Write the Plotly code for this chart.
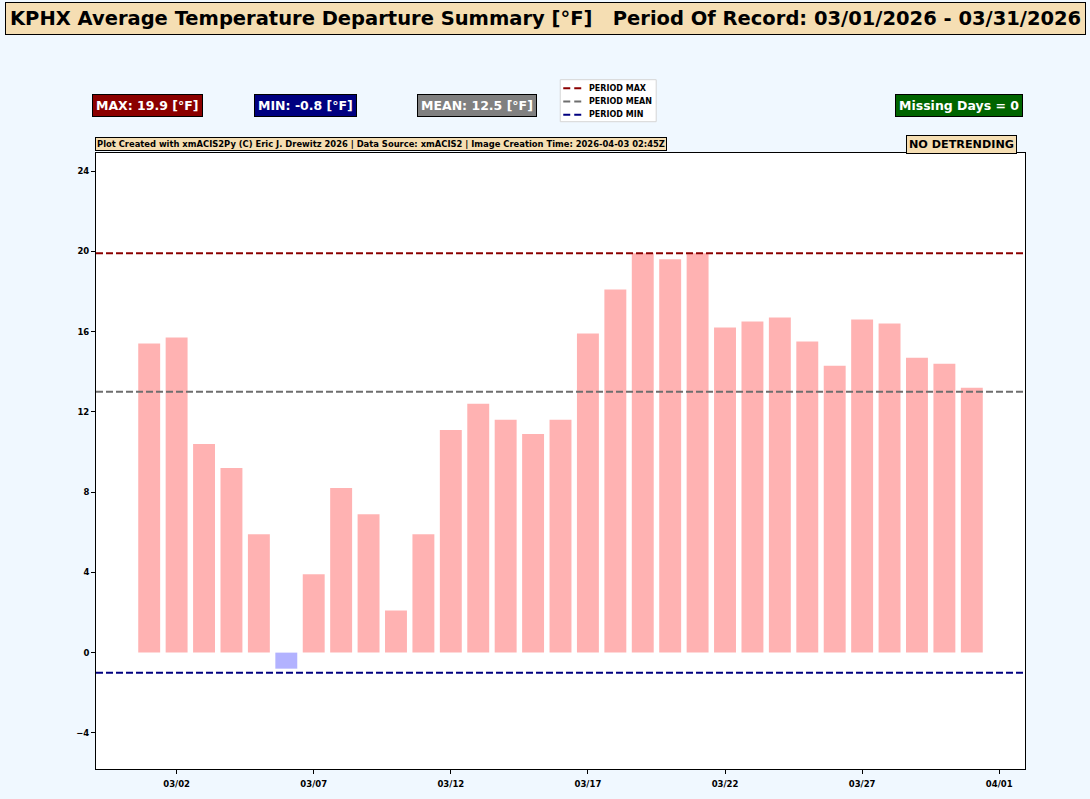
import plotly.graph_objects as go
import pandas as pd

# ---- data ----
dates = pd.date_range("2026-03-01", "2026-03-31", freq="D")
departures = [15.4, 15.7, 10.4, 9.2, 5.9, -0.8, 3.9, 8.2, 6.9, 2.1,
              5.9, 11.1, 12.4, 11.6, 10.9, 11.6, 15.9, 18.1, 19.9, 19.6,
              19.9, 16.2, 16.5, 16.7, 15.5, 14.3, 16.6, 16.4, 14.7, 14.4, 13.2]
period_max_line = 19.9
period_mean_line = 13.0
period_min_line = -1.0
line_names = ["PERIOD MAX", "PERIOD MEAN", "PERIOD MIN"]
line_colors = ["#8B0000", "#6E6E6E", "#000080"]
max_label = "MAX: 19.9 [°F]"
min_label = "MIN: -0.8 [°F]"
mean_label = "MEAN: 12.5 [°F]"
missing_label = "Missing Days = 0"
title_text = "KPHX Average Temperature Departure Summary [°F]   Period Of Record: 03/01/2026 - 03/31/2026"
credit_text = ("Plot Created with xmACIS2Py (C) Eric J. Drewitz 2026 | Data Source: xmACIS2 | "
               "Image Creation Time: 2026-04-03 02:45Z")
detrend_text = "NO DETRENDING"

FONT = "DejaVu Sans"
DAY_MS = 86400000

bar_colors = ["rgba(255,0,0,0.3)" if v >= 0 else "rgba(0,0,255,0.3)" for v in departures]

fig = go.Figure()
fig.add_trace(go.Bar(x=dates, y=departures, width=0.8 * DAY_MS,
                     marker=dict(color=bar_colors, line=dict(width=0)),
                     showlegend=False))

# pixel geometry helpers
L, R, T, B = 95.5, 1025, 153.3, 769.3
W, H = R - L, B - T
def px(x): return (x - L) / W
def py(y): return (B - y) / H

DASH = "7px,3px"
line_values = [period_max_line, period_mean_line, period_min_line]
for val, col, name in zip(line_values, line_colors, line_names):
    fig.add_shape(type="line", xref="paper", x0=0, x1=1, yref="y", y0=val, y1=val,
                  line=dict(color=col, width=2, dash=DASH), layer="above", name=name)

# legend (drawn manually to match compact layout)
fig.add_shape(type="rect", xref="paper", yref="paper",
              x0=px(560), x1=px(656), y0=py(122), y1=py(80),
              line=dict(color="#D6D6D6", width=1), fillcolor="white")
ann = []
for i, (col, name) in enumerate(zip(line_colors, line_names)):
    ly = 88.5 + i * 13.3
    fig.add_shape(type="line", xref="paper", yref="paper",
                  x0=px(563), x1=px(581), y0=py(ly), y1=py(ly),
                  line=dict(color=col, width=2, dash="7px,4px"))
    ann.append(dict(text=f"<b>{name}</b>", x=px(587), y=py(ly), xref="paper", yref="paper",
                    showarrow=False, xanchor="left", yanchor="middle",
                    font=dict(family=FONT, size=8, color="black")))

pad = pd.Timedelta(days=1.94)
x_range = [dates[0] - pad, dates[-1] + pad]
y_range = [min(departures) - 5, max(departures) + 5]

def box(text, cx, cy, size, bg, fc="white", pad=3, border="black"):
    ann.append(dict(text=f"<b>{text}</b>", x=px(cx), y=py(cy), xref="paper", yref="paper",
                    showarrow=False, xanchor="center", yanchor="middle",
                    font=dict(family=FONT, size=size, color=fc),
                    bgcolor=bg, bordercolor=border, borderwidth=1, borderpad=pad))

box(title_text, 545, 18.5, 19.5, "#F5DEB3", fc="black", pad=4)
box(max_label, 147, 106, 12.5, "#8B0000")
box(min_label, 305, 106, 12.5, "#000080")
box(mean_label, 477, 106, 12.5, "#808080")
box(missing_label, 959, 106, 12.5, "#006400")
box(credit_text, 381, 144.5, 8.4, "#F5DEB3", fc="black", pad=1)
box(detrend_text, 961, 144.5, 11.2, "#F5DEB3", fc="black", pad=2)

fig.update_layout(
    width=1090, height=799,
    paper_bgcolor="#F0F8FF", plot_bgcolor="white",
    margin=dict(l=L, r=1090 - R, t=T, b=799 - B, pad=0, autoexpand=False),
    font=dict(family=FONT, color="black"),
    annotations=ann,
    showlegend=False,
    xaxis=dict(type="date", range=x_range, tick0="2026-03-02", dtick=5 * DAY_MS,
               tickformat="%m/%d", showgrid=False, zeroline=False, automargin=False,
               showline=True, linecolor="black", linewidth=1, mirror=True,
               ticks="outside", ticklen=4, tickcolor="black", ticklabelstandoff=3,
               tickfont=dict(family=FONT, size=8.5, weight="bold")),
    yaxis=dict(range=y_range, tick0=0, dtick=4, showgrid=False, zeroline=False,
               automargin=False,
               showline=True, linecolor="black", linewidth=1, mirror=True,
               ticks="outside", ticklen=4, tickcolor="black",
               tickfont=dict(family=FONT, size=8.5, weight="bold")),
)

fig.write_html("out.html",
               config={"displayModeBar": False},
               post_script="document.body.style.margin='0';"
                           "document.body.style.background='#F0F8FF';")
